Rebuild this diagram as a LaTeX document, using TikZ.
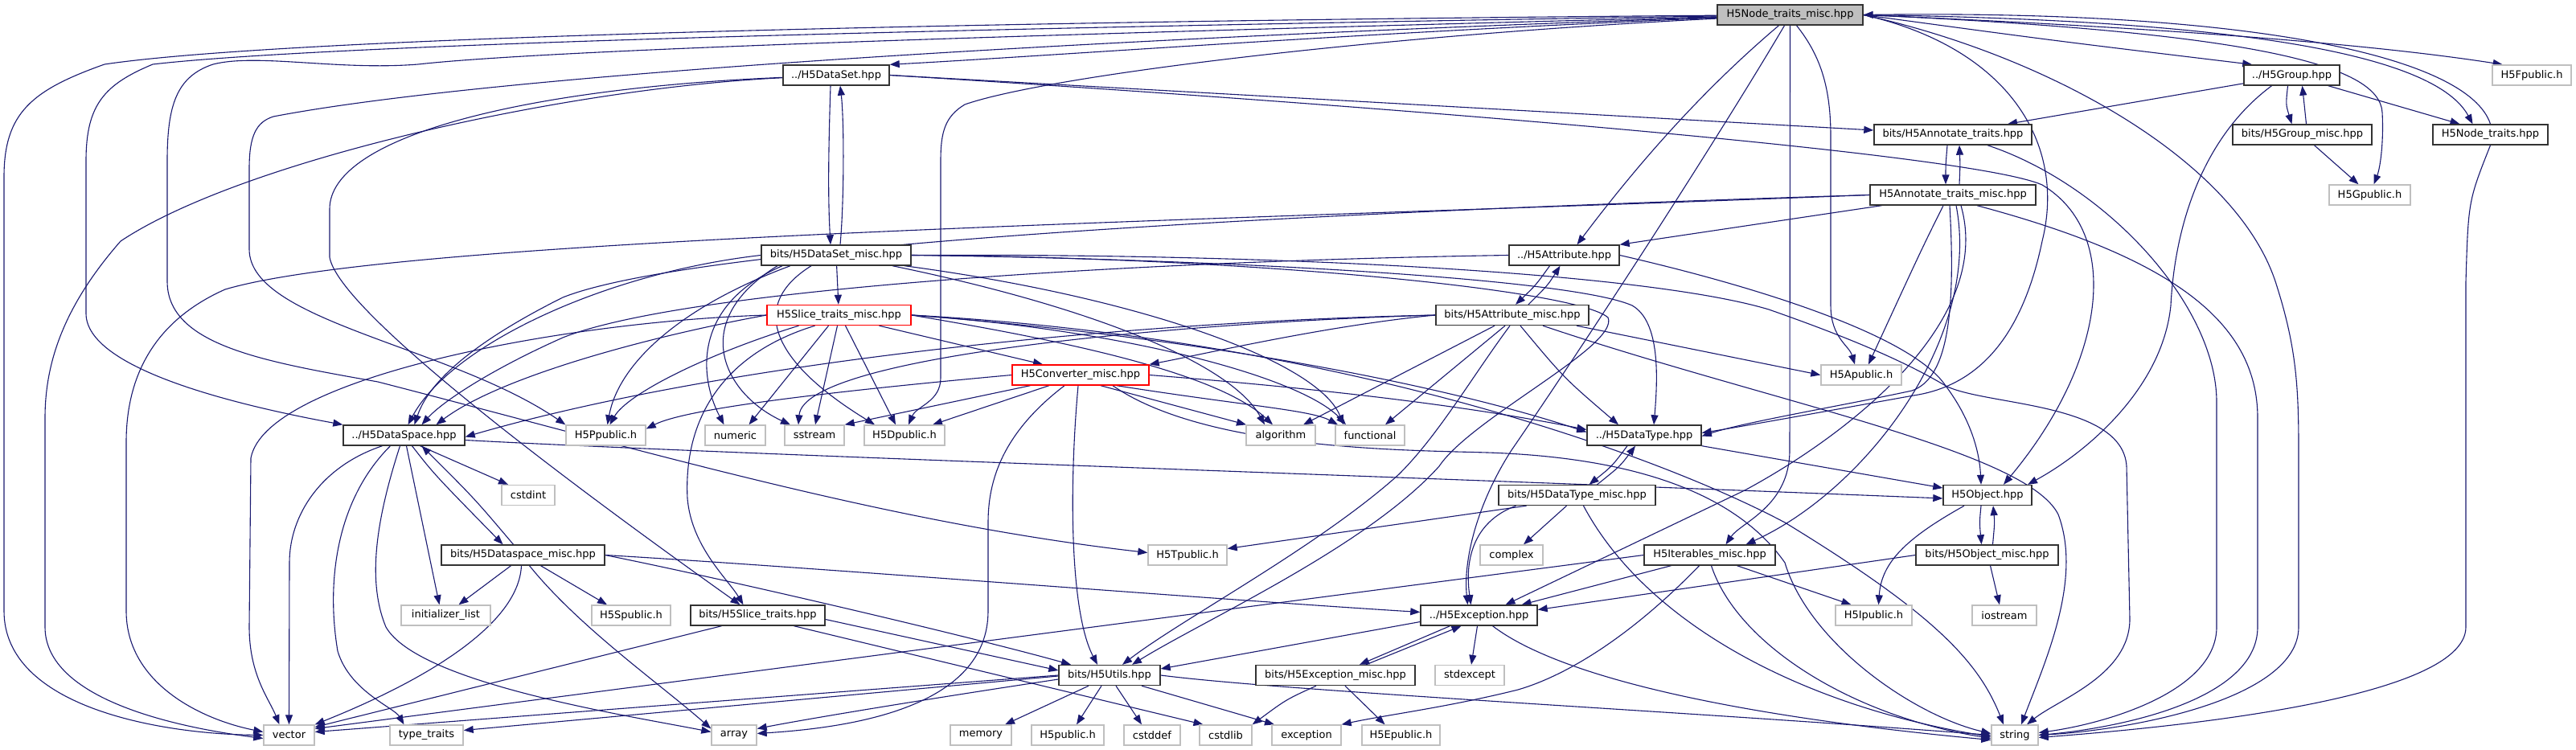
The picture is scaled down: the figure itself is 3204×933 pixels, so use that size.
\documentclass[tikz,border=0pt]{standalone}
\usepackage{fontspec}
\setmainfont{DejaVu Sans}
\usetikzlibrary{arrows.meta}
\pgfdeclarelayer{background}
\pgfsetlayers{background,main}
\definecolor{mblue}{RGB}{25,25,112}
\definecolor{gbord}{RGB}{191,191,191}
\definecolor{rootfill}{RGB}{191,191,191}
\tikzset{
  bx/.style={rectangle, inner sep=0pt, minimum height=25pt, line width=1.4pt, fill=white, font=\fontsize{13}{15}\selectfont, anchor=center},
  inn/.style={bx, draw=black!80},
  sys/.style={bx, draw=gbord},
  hot/.style={bx, draw=red},
  rootn/.style={bx, draw=black!80, fill=rootfill},
  edg/.style={draw=mblue, line width=1.1pt, -{Triangle[length=12pt,width=9pt]}},
}
\begin{document}
\begin{tikzpicture}[x=1pt,y=-1pt]
\useasboundingbox (0,0) rectangle (3204,933);
% nodes
\node[rootn, minimum width=181pt] (root) at (2226.5,18.5) {H5Node\_traits\_misc.hpp};
\node[inn, minimum width=132pt] (dataset) at (1040,93.5) {../H5DataSet.hpp};
\node[inn, minimum width=119pt] (group) at (2850.5,93.5) {../H5Group.hpp};
\node[sys, minimum width=98pt] (fpublic) at (3149,93.5) {H5Fpublic.h};
\node[inn, minimum width=196pt] (annot) at (2429,167.5) {bits/H5Annotate\_traits.hpp};
\node[inn, minimum width=173pt] (groupmisc) at (2863.5,167.5) {bits/H5Group\_misc.hpp};
\node[inn, minimum width=143pt] (nodetraits) at (3097.5,167.5) {H5Node\_traits.hpp};
\node[inn, minimum width=206pt] (annotmisc) at (2429,242.5) {H5Annotate\_traits\_misc.hpp};
\node[sys, minimum width=101pt] (gpublic) at (2947.5,242.5) {H5Gpublic.h};
\node[inn, minimum width=137pt] (attribute) at (1945.5,317.5) {../H5Attribute.hpp};
\node[inn, minimum width=186pt] (datasetmisc) at (1040,317.5) {bits/H5DataSet\_misc.hpp};
\node[hot, minimum width=179pt] (slicemisc) at (1043.5,392) {H5Slice\_traits\_misc.hpp};
\node[inn, minimum width=190pt] (attrmisc) at (1881,392) {bits/H5Attribute\_misc.hpp};
\node[hot, minimum width=170pt] (converter) at (1344,466.5) {H5Converter\_misc.hpp};
\node[sys, minimum width=100pt] (apublic) at (2315,466.5) {H5Apublic.h};
\node[inn, minimum width=151pt] (dataspace) at (502.5,541.5) {../H5DataSpace.hpp};
\node[sys, minimum width=99pt] (ppublic) at (753.5,541.5) {H5Ppublic.h};
\node[sys, minimum width=75pt] (numeric) at (914.5,541.5) {numeric};
\node[sys, minimum width=74pt] (sstream) at (1013,541.5) {sstream};
\node[sys, minimum width=100pt] (dpublic) at (1125,541.5) {H5Dpublic.h};
\node[sys, minimum width=86pt] (algorithm) at (1593,541.5) {algorithm};
\node[sys, minimum width=86pt] (functional) at (1704,541.5) {functional};
\node[inn, minimum width=142pt] (datatype) at (2045,541.5) {../H5DataType.hpp};
\node[sys, minimum width=66pt] (cstdint) at (657,616) {cstdint};
\node[inn, minimum width=195pt] (datatypemisc) at (1961.5,616) {bits/H5DataType\_misc.hpp};
\node[inn, minimum width=110pt] (object) at (2472,616) {H5Object.hpp};
\node[sys, minimum width=98pt] (tpublic) at (1477,690.5) {H5Tpublic.h};
\node[sys, minimum width=78pt] (complex) at (1880,690.5) {complex};
\node[inn, minimum width=203pt] (dataspacemisc) at (650.5,690.5) {bits/H5Dataspace\_misc.hpp};
\node[inn, minimum width=163pt] (iterables) at (2126.5,690.5) {H5Iterables\_misc.hpp};
\node[inn, minimum width=177pt] (objectmisc) at (2471.5,690.5) {bits/H5Object\_misc.hpp};
\node[sys, minimum width=111pt] (initlist) at (554.5,765.5) {initializer\_list};
\node[sys, minimum width=98pt] (spublic) at (785,765.5) {H5Spublic.h};
\node[inn, minimum width=167pt] (slicetraits) at (942.5,765.5) {bits/H5Slice\_traits.hpp};
\node[inn, minimum width=145pt] (exception) at (1839.5,765.5) {../H5Exception.hpp};
\node[sys, minimum width=95pt] (ipublic) at (2330.5,765.5) {H5Ipublic.h};
\node[sys, minimum width=80pt] (iostream) at (2493,765.5) {iostream};
\node[inn, minimum width=126pt] (utils) at (1380,840) {bits/H5Utils.hpp};
\node[inn, minimum width=198pt] (exceptionmisc) at (1661,840) {bits/H5Exception\_misc.hpp};
\node[sys, minimum width=86pt] (stdexcept) at (1828,840) {stdexcept};
\node[sys, minimum width=63pt] (vector) at (359.5,914.5) {vector};
\node[sys, minimum width=91pt] (typetraits) at (530.5,914.5) {type\_traits};
\node[sys, minimum width=56pt] (array) at (913,914.5) {array};
\node[sys, minimum width=76pt] (memory) at (1220,914.5) {memory};
\node[sys, minimum width=90pt] (h5public) at (1328,914.5) {H5public.h};
\node[sys, minimum width=70pt] (cstddef) at (1433,914.5) {cstddef};
\node[sys, minimum width=65pt] (cstdlib) at (1524.5,914.5) {cstdlib};
\node[sys, minimum width=86pt] (exceptionh) at (1625,914.5) {exception};
\node[sys, minimum width=97pt] (epublic) at (1742.5,914.5) {H5Epublic.h};
\node[sys, minimum width=58pt] (string) at (2506,914.5) {string};

\begin{pgfonlayer}{background}
\fill[white] (0,0) rectangle (3204,933);
% root
\draw[edg] (root) .. controls (1500,24) and (400,40) .. (130,80) .. controls (40,112) and (5,140) .. (5,220) -- (5,760) .. controls (5,880) and (200,913) .. (vector.west);
\draw[edg] (root) .. controls (1500,30) and (450,50) .. (190,80) .. controls (130,105) and (107,130) .. (107,200) -- (107,390) .. controls (107,460) and (300,505) .. (dataspace.north west);
\draw[edg] (root) .. controls (1400,40) and (700,60) .. (520,80) .. controls (420,88) and (320,66) .. (265,80) .. controls (220,95) and (208,130) .. (208,200) -- (208,350) .. controls (208,430) and (330,450) .. (470,475) .. controls (800,560) and (1100,650) .. ([yshift=3pt]tpublic.west);
\draw[edg] (root) .. controls (1300,50) and (600,95) .. (340,145) .. controls (318,152) and (310,170) .. (310,210) -- (310,310) .. controls (310,400) and (560,430) .. (ppublic.north west);
\draw[edg] (root) .. controls (1700,40) and (1300,70) .. (dataset.north east);
\draw[edg] (root) .. controls (1700,45) and (1300,95) .. (1200,130) .. controls (1175,145) and (1170,165) .. (1170,200) -- (1170,470) .. controls (1170,500) and (1140,505) .. ([xshift=5pt]dpublic.north);
\draw[edg] ([xshift=-14pt]root.south) .. controls (2120,110) and (2040,200) .. ([xshift=16pt]attribute.north);
\draw[edg] ([xshift=-7pt]root.south) .. controls (2150,150) and (1990,400) .. (1880,560) .. controls (1835,630) and (1820,700) .. ([xshift=-14pt]exception.north);
\draw[edg] (root.south) -- (2226,560) .. controls (2226,630) and (2165,650) .. ([xshift=20pt]iterables.north);
\draw[edg] ([xshift=8pt]root.south) .. controls (2265,70) and (2277,110) .. (2277,170) -- (2277,380) .. controls (2277,420) and (2300,430) .. ([xshift=-8pt]apublic.north);
\draw[edg] (root.east) .. controls (2550,50) .. (group.165);
\draw[edg] (root.east) .. controls (2700,35) and (2950,55) .. (fpublic.160);
\draw[edg] (root.east) .. controls (2800,25) and (3030,70) .. ([xshift=-22pt]nodetraits.north);
\draw[edg] (nodetraits.north) .. controls (3070,70) and (2800,12) .. (root.east);
\draw[edg] (root.east) .. controls (2800,40) and (2960,80) .. (2963,140) .. controls (2965,180) and (2960,210) .. ([xshift=5pt]gpublic.north);
\draw[edg] (root.east) .. controls (2500,60) and (2570,180) .. (2540,300) .. controls (2515,420) and (2460,480) .. (2380,492) .. controls (2280,510) and (2170,530) .. ([yshift=3pt]datatype.east);
\draw[edg] (root.east) .. controls (2550,70) and (2780,200) .. (2830,350) .. controls (2856,430) and (2859,480) .. (2859,560) -- (2859,780) .. controls (2859,870) and (2650,908) .. (string.east);
\draw[edg] (nodetraits.south) .. controls (3070,250) .. (3067,350) -- (3067,780) .. controls (3067,870) and (2700,905) .. ([yshift=-3pt]string.east);
% group
\draw[edg] (group) -- ([xshift=68pt]annot.north);
\draw[edg] ([xshift=-5pt]group.south) .. controls (2843,130) .. ([xshift=-13pt]groupmisc.north);
\draw[edg] ([xshift=5pt]groupmisc.north) .. controls (2866,130) .. ([xshift=13pt]group.south);
\draw[edg] (group) -- ([xshift=-38pt]nodetraits.north);
\draw[edg] ([xshift=-25pt]group.south) .. controls (2740,170) and (2705,280) .. (2700,380) .. controls (2690,480) and (2600,560) .. ([xshift=50pt]object.north);
\draw[edg] (groupmisc) -- ([xshift=-14pt]gpublic.north);
% annot
\draw[edg] ([xshift=-7pt]annot.south) .. controls (2420,205) .. ([xshift=-9pt]annotmisc.north);
\draw[edg] ([xshift=8pt]annotmisc.north) .. controls (2438,205) .. ([xshift=8pt]annot.south);
\draw[edg] ([xshift=43pt]annot.south) .. controls (2620,230) and (2757,380) .. (2757,500) -- (2757,780) .. controls (2757,860) and (2620,900) .. ([yshift=3pt]string.east);
% annotmisc
\draw[edg] (annotmisc.west) .. controls (1500,275) and (500,295) .. (280,360) .. controls (190,400) and (157,470) .. (157,550) -- (157,760) .. controls (157,850) and (250,895) .. ([yshift=4pt]vector.west);
\draw[edg] (annotmisc.west) .. controls (1500,268) and (850,310) .. (700,370) .. controls (600,420) and (535,470) .. ([xshift=13pt]dataspace.north);
\draw[edg] (annotmisc) -- (attribute.north east);
\draw[edg] ([xshift=-12pt]annotmisc.south) .. controls (2390,310) .. ([xshift=9pt]apublic.north);
\draw[edg] ([xshift=-4pt]annotmisc.south) .. controls (2432,380) and (2425,470) .. (2378,486) .. controls (2290,505) and (2170,525) .. ([yshift=-1pt]datatype.east);
\draw[edg] ([xshift=4pt]annotmisc.south) .. controls (2465,420) and (2320,610) .. ([xshift=45pt]iterables.north);
\draw[edg] ([xshift=10pt]annotmisc.south) .. controls (2480,400) and (2300,540) .. (2170,610) -- ([xshift=33pt]exception.north);
\draw[edg] ([xshift=30pt]annotmisc.south) .. controls (2700,320) and (2808,400) .. (2808,520) -- (2808,780) .. controls (2808,870) and (2640,905) .. (string.east);
% attribute
\draw[edg] ([xshift=-18pt]attribute.south) .. controls (1910,355) .. ([xshift=4pt]attrmisc.north);
\draw[edg] ([xshift=20pt]attrmisc.north) .. controls (1925,355) .. ([xshift=-5pt]attribute.south);
\draw[edg] (attribute.west) .. controls (1400,325) and (850,360) .. (700,420) .. controls (610,460) and (550,500) .. ([xshift=22pt]dataspace.north);
\draw[edg] (attribute.east) .. controls (2200,360) and (2380,420) .. (2420,480) .. controls (2450,520) and (2462,560) .. ([xshift=-8pt]object.north);
% attrmisc
\draw[edg] ([xshift=80pt]attrmisc.south) -- (apublic.west);
\draw[edg] ([xshift=38pt]attrmisc.south) .. controls (2200,500) and (2520,560) .. (2560,640) .. controls (2590,720) and (2545,820) .. ([xshift=8pt]string.north);
\draw[edg] ([xshift=10pt]attrmisc.south) .. controls (1945,470) .. ([xshift=-32pt]datatype.north);
\draw[edg] ([xshift=-9pt]attrmisc.south) -- ([xshift=19pt]functional.north);
\draw[edg] ([xshift=-22pt]attrmisc.south) -- ([xshift=28pt]algorithm.north);
\draw[edg] ([xshift=-3pt]attrmisc.south) .. controls (1830,470) and (1790,540) .. (1740,590) .. controls (1640,680) and (1470,770) .. ([xshift=16pt]utils.north);
\draw[edg] (attrmisc.west) .. controls (1650,405) and (1500,440) .. (converter.north east);
\draw[edg] (attrmisc.west) .. controls (1400,400) and (900,450) .. ([yshift=-2pt]dataspace.east);
\draw[edg] (attrmisc.west) .. controls (1500,400) and (1000,440) .. ([xshift=-20pt]sstream.north);
% datasetmisc
\draw[edg] ([xshift=-7pt]dataset.south) .. controls (1030,200) and (1030,250) .. ([xshift=-7pt]datasetmisc.north);
\draw[edg] ([xshift=5pt]datasetmisc.north) .. controls (1050,250) and (1050,150) .. ([xshift=5pt]dataset.south);
\draw[edg] (datasetmisc) -- (slicemisc);
\draw[edg] ([xshift=-67pt]datasetmisc.south) .. controls (860,380) and (870,470) .. ([xshift=-14pt]numeric.north);
\draw[edg] ([xshift=-73pt]datasetmisc.south) .. controls (855,400) and (900,490) .. ([xshift=-30pt]sstream.north);
\draw[edg] ([xshift=-31pt]datasetmisc.south) .. controls (930,380) and (960,450) .. ([xshift=-37pt]dpublic.north);
\draw[edg] (datasetmisc.west) .. controls (750,340) and (560,430) .. ([xshift=5pt]dataspace.north);
\draw[edg] ([xshift=-57pt]datasetmisc.south) .. controls (850,380) and (770,450) .. ([xshift=2pt]ppublic.north);
\draw[edg] ([xshift=70pt]datasetmisc.south) .. controls (1350,380) and (1530,450) .. ([xshift=-20pt]algorithm.north);
\draw[edg] ([xshift=85pt]datasetmisc.south) .. controls (1420,370) and (1640,450) .. ([xshift=-33pt]functional.north);
\draw[edg] (datasetmisc.east) .. controls (1500,322) and (1950,345) .. (2030,380) .. controls (2065,400) and (2062,470) .. ([xshift=12pt]datatype.north);
\draw[edg] (datasetmisc.east) .. controls (1550,320) and (1960,360) .. (2000,395) .. controls (2015,430) and (1830,520) .. (1790,580) .. controls (1700,680) and (1500,770) .. ([xshift=28pt]utils.north);
\draw[edg] (datasetmisc.east) .. controls (1600,315) and (2050,340) .. (2200,385) .. controls (2300,420) and (2370,450) .. (2420,480) .. controls (2470,505) and (2640,500) .. (2645,580) -- (2649,770) .. controls (2649,840) and (2560,870) .. ([xshift=15pt]string.north);
% dataset
\draw[edg] (dataset) .. controls (700,110) and (300,200) .. (150,300) .. controls (80,380) and (56,450) .. (56,520) -- (56,780) .. controls (56,870) and (220,905) .. ([yshift=-4pt]vector.west);
\draw[edg] (dataset) .. controls (650,110) and (410,170) .. (410,260) -- (410,320) .. controls (420,380) and (650,560) .. ([xshift=-22pt]slicetraits.north);
\draw[edg] (dataset.east) -- ([yshift=5.5pt]annot.west);
\draw[edg] (dataset.east) .. controls (1700,130) and (2450,190) .. (2540,230) .. controls (2640,290) and (2620,450) .. ([xshift=20pt]object.north);
% slicemisc
\draw[edg] (slicemisc.west) .. controls (800,420) and (620,470) .. ([xshift=40pt]dataspace.north);
\draw[edg] (slicemisc.west) .. controls (700,400) and (330,470) .. (312,570) -- (310,780) .. controls (310,840) and (335,870) .. ([xshift=-12pt]vector.north);
\draw[edg] ([xshift=-50pt]slicemisc.south) .. controls (880,440) and (780,490) .. ([xshift=5pt]ppublic.north);
\draw[edg] ([xshift=-13pt]slicemisc.south) -- ([xshift=17pt]numeric.north);
\draw[edg] ([xshift=-2pt]slicemisc.south) -- ([xshift=1pt]sstream.north);
\draw[edg] ([xshift=8pt]slicemisc.south) -- ([xshift=-11pt]dpublic.north);
\draw[edg] ([xshift=50pt]slicemisc.south) -- ([xshift=-47pt]converter.north);
\draw[edg] ([xshift=-30pt]slicemisc.south) .. controls (900,440) and (850,520) .. (855,620) .. controls (860,680) and (905,720) .. ([xshift=-18pt]slicetraits.north);
\draw[edg] (slicemisc.east) .. controls (1300,420) and (1510,460) .. ([xshift=-10pt]algorithm.north);
\draw[edg] (slicemisc.east) .. controls (1400,410) and (1620,470) .. ([xshift=-30pt]functional.north);
\draw[edg] (slicemisc.east) .. controls (1500,420) and (1800,480) .. ([yshift=4pt]datatype.west);
\draw[edg] (slicemisc.east) .. controls (1650,420) and (2050,560) .. (2220,650) .. controls (2400,760) and (2460,820) .. ([xshift=-14pt]string.north);
% converter
\draw[edg] (converter.west) .. controls (1000,490) and (850,510) .. ([yshift=8pt]ppublic.east);
\draw[edg] (converter) -- (sstream.north east);
\draw[edg] (converter) -- ([xshift=35pt]dpublic.north);
\draw[edg] ([xshift=-20pt]converter.south) .. controls (1245,540) and (1229,600) .. (1229,650) -- (1229,760) .. controls (1229,880) and (1060,905) .. ([yshift=2pt]array.east);
\draw[edg] ([xshift=-3pt]converter.south) .. controls (1330,600) and (1330,760) .. ([xshift=-15pt]utils.north);
\draw[edg] ([xshift=40pt]converter.south) .. controls (1500,560) and (1750,560) .. (1850,563) .. controls (2000,568) and (2150,600) .. (2220,700) .. controls (2250,800) and (2380,890) .. ([yshift=2pt]string.west);
\draw[edg] ([xshift=25pt]converter.south) -- ([xshift=-43pt]algorithm.north);
\draw[edg] ([xshift=45pt]converter.south) .. controls (1550,505) and (1630,510) .. ([xshift=-40pt]functional.north);
\draw[edg] (converter.east) .. controls (1600,480) and (1800,500) .. ([yshift=7pt]datatype.west);
% dataspace
\draw[edg] ([xshift=-27pt]dataspace.south) .. controls (400,580) and (360,640) .. (360,700) -- (vector.north);
\draw[edg] ([xshift=-17pt]dataspace.south) .. controls (420,620) and (405,720) .. (420,810) .. controls (435,860) and (490,880) .. ([xshift=-28pt]typetraits.north);
\draw[edg] ([xshift=-5pt]dataspace.south) .. controls (470,640) and (455,720) .. (480,780) .. controls (520,850) and (780,890) .. ([yshift=4pt]array.west);
\draw[edg] ([xshift=3pt]dataspace.south) -- ([xshift=-8pt]initlist.north);
\draw[edg] ([xshift=10pt]dataspace.south) .. controls (540,590) .. ([xshift=-25pt]dataspacemisc.north);
\draw[edg] ([xshift=-12pt]dataspacemisc.north) .. controls (590,620) .. ([xshift=22pt]dataspace.south);
\draw[edg] ([xshift=20pt]dataspace.south) -- ([xshift=-25pt]cstdint.north);
\draw[edg] ([yshift=-6pt]dataspace.east) .. controls (900,565) and (1800,595) .. ([yshift=-4pt]object.west);
% dataspacemisc
\draw[edg] ([xshift=-15pt]dataspacemisc.south) -- ([xshift=16pt]initlist.north);
\draw[edg] ([xshift=22pt]dataspacemisc.south) -- ([xshift=-30pt]spublic.north);
\draw[edg] ([xshift=-2pt]dataspacemisc.south) .. controls (645,780) and (520,850) .. (vector.north east);
\draw[edg] ([xshift=8pt]dataspacemisc.south) .. controls (720,780) and (820,850) .. ([yshift=8pt]array.west);
\draw[edg] (dataspacemisc.east) .. controls (900,720) and (1200,790) .. ([xshift=-48pt]utils.north);
\draw[edg] (dataspacemisc.east) .. controls (1000,705) and (1500,745) .. ([yshift=4pt]exception.west);
% datatype
\draw[edg] (datatype.south east) -- ([yshift=9pt]object.west);
\draw[edg] ([xshift=-21pt]datatype.south) .. controls (2005,580) .. ([xshift=15pt]datatypemisc.north);
\draw[edg] ([xshift=25pt]datatypemisc.north) .. controls (2015,580) .. ([xshift=-11pt]datatype.south);
% datatypemisc
\draw[edg] ([xshift=-63pt]datatypemisc.south) -- ([yshift=8pt]tpublic.east);
\draw[edg] ([xshift=-13pt]datatypemisc.south) -- ([xshift=15pt]complex.north);
\draw[edg] ([xshift=-76pt]datatypemisc.south) .. controls (1830,650) and (1822,700) .. ([xshift=-10pt]exception.north);
\draw[edg] ([xshift=8pt]datatypemisc.south) .. controls (2050,780) and (2250,880) .. ([yshift=-2pt]string.west);
% object
\draw[edg] ([xshift=-8pt]object.south) .. controls (2462,650) .. ([xshift=-7pt]objectmisc.north);
\draw[edg] ([xshift=7pt]objectmisc.north) .. controls (2481,650) .. ([xshift=7pt]object.south);
\draw[edg] ([xshift=-29pt]object.south) .. controls (2370,670) and (2340,700) .. ([xshift=6pt]ipublic.north);
\draw[edg] ([xshift=4pt]objectmisc.south) -- ([xshift=-6pt]iostream.north);
\draw[edg] (objectmisc.west) -- ([yshift=7pt]exception.east);
% iterables
\draw[edg] ([xshift=-48pt]iterables.south) -- ([xshift=53pt]exception.north);
\draw[edg] ([xshift=34pt]iterables.south) -- ([xshift=-28pt]ipublic.north);
\draw[edg] ([xshift=-13pt]iterables.south) .. controls (2030,790) and (1950,840) .. (1888,858) .. controls (1800,880) and (1720,890) .. (exceptionh.north east);
\draw[edg] ([xshift=2pt]iterables.south) .. controls (2160,800) and (2300,890) .. ([yshift=-4pt]string.west);
\draw[edg] (iterables.west) -- ([yshift=8pt]vector.east);
% exception
\draw[edg] ([xshift=-2pt]exception.south) -- ([xshift=2pt]stdexcept.north);
\draw[edg] ([xshift=-36pt]exception.south) -- ([xshift=30pt]exceptionmisc.north);
\draw[edg] ([xshift=38pt]exceptionmisc.north) -- ([xshift=-22pt]exception.south);
\draw[edg] ([yshift=-8pt]exception.west) -- ([yshift=8pt]utils.east);
\draw[edg] ([xshift=17pt]exception.south) .. controls (1950,850) and (2200,895) .. ([yshift=-6pt]string.west);
\draw[edg] ([xshift=12pt]exceptionmisc.south) -- ([xshift=-20pt]epublic.north);
\draw[edg] ([xshift=-24pt]exceptionmisc.south) .. controls (1600,870) .. (cstdlib.north east);
% utils
\draw[edg] ([xshift=-26pt]utils.south) -- ([xshift=30pt]memory.north);
\draw[edg] ([xshift=-10pt]utils.south) -- ([xshift=11pt]h5public.north);
\draw[edg] ([xshift=8pt]utils.south) -- ([xshift=-13pt]cstddef.north);
\draw[edg] ([xshift=40pt]utils.south) -- ([xshift=-40pt]exceptionh.north);
\draw[edg] (utils.east) .. controls (1600,860) and (2100,885) .. (string.west);
\draw[edg] (utils.west) -- ([yshift=4pt]vector.east);
\draw[edg] ([yshift=-1pt]utils.west) -- ([yshift=6pt]typetraits.east);
\draw[edg] ([yshift=-5pt]utils.west) .. controls (1150,870) and (1000,895) .. ([yshift=8pt]array.east);
% slicetraits
\draw[edg] ([xshift=-45pt]slicetraits.south) -- ([yshift=10pt]vector.east);
\draw[edg] ([yshift=-5pt]slicetraits.east) -- ([yshift=6pt]utils.west);
\draw[edg] ([xshift=45pt]slicetraits.south) -- ([xshift=-28pt]cstdlib.north);
\end{pgfonlayer}
\end{tikzpicture}
\end{document}
